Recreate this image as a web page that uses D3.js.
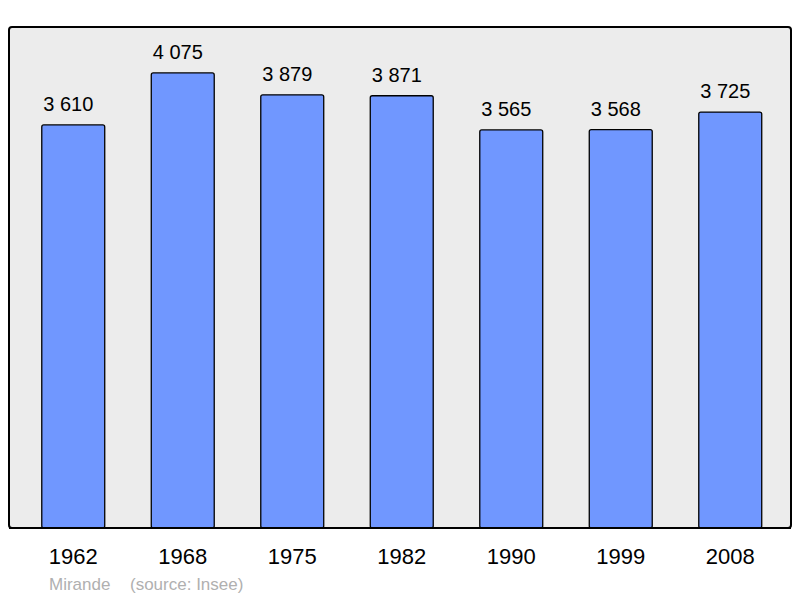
<!DOCTYPE html>
<html><head><meta charset="utf-8">
<script src="https://cdn.jsdelivr.net/npm/d3@7"></script>
<style>body{margin:0;background:#fff}svg{display:block}</style>
</head><body>
<svg id="c" width="800" height="598"></svg>
<script>
const years = ["1962","1968","1975","1982","1990","1999","2008"];
const population = [3610,4075,3879,3871,3565,3568,3725];
const commune = "Mirande";
const source = "(source: Insee)";

const svg = d3.select("#c");
const fmt = v => d3.format(",")(v).replace(/,/g, " ");

// frame
svg.append("rect").attr("x",9).attr("y",27).attr("width",782).attr("height",501)
  .attr("rx",3).attr("fill","#ececec").attr("stroke","#000").attr("stroke-width",2);

const x = d3.scaleBand().domain(years).range([18.5,785]).paddingInner(0.425).paddingOuter(0.2125);
const y = d3.scaleLinear().domain([0,4500]).range([528,25.5]);

svg.selectAll("rect.bar").data(population).join("rect").attr("class","bar")
  .attr("x",(d,i)=>x(years[i])).attr("width",x.bandwidth())
  .attr("y",d=>y(d)).attr("height",d=>y(0)-y(d))
  .attr("rx",2).attr("fill","#7097ff").attr("stroke","#000").attr("stroke-width",1.3);

// redraw frame bottom over bars
svg.append("line").attr("x1",9).attr("x2",791).attr("y1",528).attr("y2",528)
  .attr("stroke","#000").attr("stroke-width",2);

svg.selectAll("text.val").data(population).join("text").attr("class","val")
  .attr("x",(d,i)=>x(years[i])+x.bandwidth()/2-5).attr("y",d=>y(d)-14)
  .attr("text-anchor","middle").attr("font-family","Liberation Sans, Arial, sans-serif")
  .attr("font-size",20).attr("fill","#000").text(d=>fmt(d));

const xAxis = d3.axisBottom(x).tickSize(0).tickPadding(0);
const ax = svg.append("g").attr("transform","translate(0,564)").call(xAxis);
ax.select(".domain").remove();
ax.selectAll("text").attr("dy",0).attr("font-family","Liberation Sans, Arial, sans-serif")
  .attr("font-size",22).attr("fill","#000");

svg.append("text").attr("x",49).attr("y",590).attr("font-family","Liberation Sans, Arial, sans-serif")
  .attr("font-size",17).attr("fill","#b0b0b0").text(commune);
svg.append("text").attr("x",130).attr("y",590).attr("font-family","Liberation Sans, Arial, sans-serif")
  .attr("font-size",17).attr("fill","#b0b0b0").text(source);
</script>
</body></html>
